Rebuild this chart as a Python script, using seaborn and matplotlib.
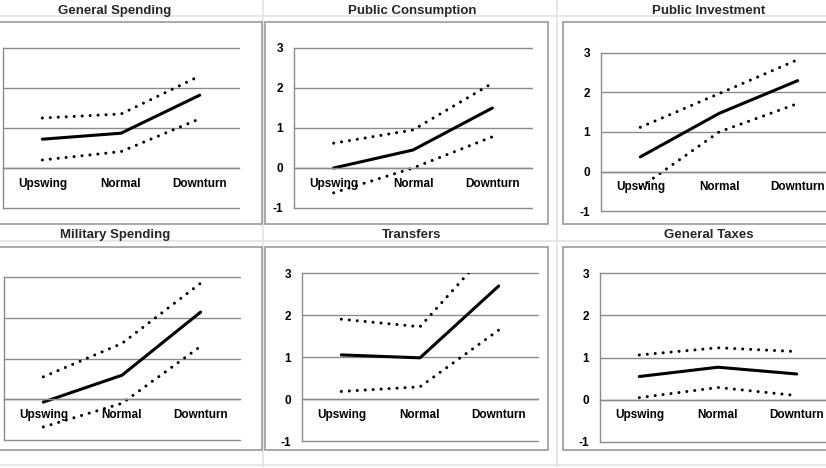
import matplotlib

matplotlib.use("Agg")

import matplotlib.pyplot as plt
import pandas as pd
import seaborn as sns
from matplotlib.lines import Line2D
from matplotlib.patches import Rectangle


PHASES = ["Upswing", "Normal", "Downturn"]
TITLES = [
    "General Spending",
    "Public Consumption",
    "Public Investment",
    "Military Spending",
    "Transfers",
    "General Taxes",
]

# point estimate and upper / lower bands
GENERAL_SPENDING = [0.72, 0.87, 1.82]
GENERAL_SPENDING_HI = [1.25, 1.35, 2.30]
GENERAL_SPENDING_LO = [0.20, 0.41, 1.23]

PUBLIC_CONSUMPTION = [0.00, 0.45, 1.50]
PUBLIC_CONSUMPTION_HI = [0.62, 0.95, 2.12]
PUBLIC_CONSUMPTION_LO = [-0.62, 0.00, 0.78]

PUBLIC_INVESTMENT = [0.37, 1.47, 2.30]
PUBLIC_INVESTMENT_HI = [1.12, 1.97, 2.83]
PUBLIC_INVESTMENT_LO = [-0.40, 1.00, 1.72]

MILITARY_SPENDING = [-0.07, 0.59, 2.14]
MILITARY_SPENDING_HI = [0.55, 1.37, 2.85]
MILITARY_SPENDING_LO = [-0.68, -0.10, 1.30]

TRANSFERS = [1.05, 0.98, 2.69]
TRANSFERS_HI = [1.90, 1.72, 3.80]
TRANSFERS_LO = [0.18, 0.29, 1.64]

GENERAL_TAXES = [0.55, 0.77, 0.61]
GENERAL_TAXES_HI = [1.06, 1.23, 1.14]
GENERAL_TAXES_LO = [0.05, 0.29, 0.10]

Y_TICKS = [-1, 0, 1, 2, 3]

W, H = 826, 468
GRID = "#8c8c8c"

# pixel layout of the excel sheet: plot areas, chart boxes, titles
PLOT_AREAS = [
    (3, 48, 239, 208),
    (294, 48, 532, 208),
    (601, 53, 837, 211),
    (4, 277, 240, 440),
    (302, 273, 538, 441),
    (600, 273, 836, 442),
]
BOX_X = [(-5, 262), (265, 548), (563, 840)]
BOX_Y = [(22, 224), (247, 450)]
TITLE_X = [115, 412, 709]
TITLE_Y = [11, 235]


def px_rect(x0, y0, x1, y1):
    return [x0 / W, 1 - y1 / H, (x1 - x0) / W, (y1 - y0) / H]


def draw_panel(ax, est, hi, lo, show_y):
    df = pd.DataFrame({
        "phase": PHASES * 3,
        "value": est + hi + lo,
        "band": ["estimate"] * 3 + ["upper"] * 3 + ["lower"] * 3,
    })
    sns.lineplot(
        data=df,
        x="phase",
        y="value",
        style="band",
        dashes={"estimate": "", "upper": (0.01, 2.6), "lower": (0.01, 2.6)},
        color="black",
        linewidth=2.2,
        dash_capstyle="round",
        estimator=None,
        sort=False,
        legend=False,
        ax=ax,
    )
    ax.set_xlim(-0.5, 2.5)
    ax.set_ylim(-1, 3)
    ax.set_yticks(Y_TICKS)
    ax.set_yticklabels([str(v) for v in Y_TICKS])
    ax.set_xticks([0.5, 1.5, 2.5], minor=True)
    ax.set_xlabel("")
    ax.set_ylabel("")
    ax.set_facecolor("none")

    ax.yaxis.grid(True, color=GRID, linewidth=1.0)
    ax.xaxis.grid(False)
    ax.set_axisbelow(True)
    # keep the top and bottom gridlines whole at the edge of the plot area
    for gl in ax.get_ygridlines():
        gl.set_clip_on(False)
    for side in ["top", "right"]:
        ax.spines[side].set_visible(False)
    ax.spines["left"].set_color(GRID)
    ax.spines["bottom"].set_color(GRID)
    ax.spines["left"].set_linewidth(1.0)
    ax.spines["bottom"].set_linewidth(1.0)
    ax.spines["bottom"].set_position(("data", 0))

    ax.tick_params(axis="x", which="major", length=0, pad=7,
                   labelsize=8.5, labelcolor="black")
    ax.tick_params(axis="x", which="minor", length=3, width=1,
                   color=GRID, direction="out")
    # the left column is cut off at the sheet edge, so its y labels are not seen
    ax.tick_params(axis="y", length=3, width=1, color=GRID, pad=5,
                   labelsize=8.5, labelcolor="black", labelleft=show_y)
    for lab in ax.get_xticklabels() + ax.get_yticklabels():
        lab.set_fontweight("bold")


def main():
    sns.set_style("white")
    plt.rcParams["font.family"] = ["Liberation Sans", "DejaVu Sans"]
    plt.rcParams["axes.unicode_minus"] = False

    panels = [
        (GENERAL_SPENDING, GENERAL_SPENDING_HI, GENERAL_SPENDING_LO),
        (PUBLIC_CONSUMPTION, PUBLIC_CONSUMPTION_HI, PUBLIC_CONSUMPTION_LO),
        (PUBLIC_INVESTMENT, PUBLIC_INVESTMENT_HI, PUBLIC_INVESTMENT_LO),
        (MILITARY_SPENDING, MILITARY_SPENDING_HI, MILITARY_SPENDING_LO),
        (TRANSFERS, TRANSFERS_HI, TRANSFERS_LO),
        (GENERAL_TAXES, GENERAL_TAXES_HI, GENERAL_TAXES_LO),
    ]

    fig = plt.figure(figsize=(W / 100, H / 100), dpi=100)
    fig.patch.set_facecolor("white")

    # faint spreadsheet cell lines behind the charts
    for y in [16, 241, 465]:
        fig.add_artist(Line2D([0, 1], [1 - y / H] * 2, color="#e3e3e3",
                              lw=1.2, zorder=-10))
    for x in [263, 557]:
        fig.add_artist(Line2D([x / W] * 2, [0, 1], color="#e3e3e3",
                              lw=1.2, zorder=-10))

    for i, (title, (est, hi, lo)) in enumerate(zip(TITLES, panels)):
        row, col = divmod(i, 3)
        bx0, bx1 = BOX_X[col]
        by0, by1 = BOX_Y[row]
        fig.add_artist(Rectangle(
            (bx0 / W, 1 - by1 / H), (bx1 - bx0) / W, (by1 - by0) / H,
            transform=fig.transFigure, facecolor="white",
            edgecolor="#9a9a9a", linewidth=1.2, zorder=-5,
        ))
        fig.text(TITLE_X[col] / W, 1 - TITLE_Y[row] / H, title,
                 ha="center", va="center", fontsize=9.5, fontweight="bold")

        ax = fig.add_axes(px_rect(*PLOT_AREAS[i]))
        draw_panel(ax, est, hi, lo, show_y=col > 0)

    fig.savefig("out.png", dpi=100)
    plt.close(fig)


if __name__ == "__main__":
    main()
